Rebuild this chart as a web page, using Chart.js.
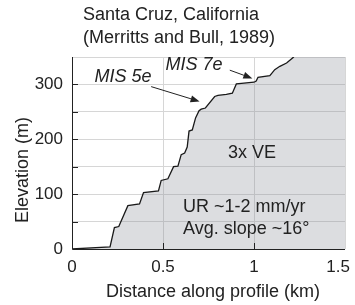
<!DOCTYPE html>
<html>
<head>
<meta charset="utf-8">
<script src="https://cdn.jsdelivr.net/npm/chart.js@4/dist/chart.umd.min.js"></script>
<style>
  html, body { margin: 0; padding: 0; background: #fff; }
  #wrap { width: 355px; height: 305px; }
</style>
</head>
<body>
<div id="wrap"><canvas id="profile"></canvas></div>
<script>
// profile: distance (km) vs elevation (m)
const distKm = [0, 0.209, 0.233, 0.257, 0.307, 0.371, 0.393, 0.475, 0.490, 0.527, 0.558, 0.582,
    0.600, 0.619, 0.633, 0.643, 0.661, 0.679, 0.698, 0.710, 0.733, 0.784, 0.802, 0.848, 0.881,
    0.903, 0.931, 1.000, 1.012, 1.022, 1.087, 1.114, 1.142, 1.179, 1.215, 1.235, 1.5];
const elevM = [0, 4, 39, 41, 79, 82, 103, 106, 125, 128, 150, 151,
    172, 175, 186, 215, 217, 239, 252, 255, 257, 278, 280, 282, 284,
    301, 302, 304, 306, 313, 316, 327, 333, 339, 349, 358, 358];

const xTicks = [0, 0.5, 1, 1.5];
const yTicks = [0, 100, 200, 300];

const titleLines = ['Santa Cruz, California', '(Merritts and Bull, 1989)'];
const xTitle = 'Distance along profile (km)';
const yTitle = 'Elevation (m)';

// notes inside the plot, in data units (x km, y m = text baseline)
const notes = [
    { text: 'MIS 5e', x: 0.123, y: 305, italic: true },
    { text: 'MIS 7e', x: 0.514, y: 327, italic: true },
    { text: '3x VE', x: 0.857, y: 165 },
    { text: 'UR ~1-2 mm/yr', x: 0.61, y: 67 },
    { text: 'Avg. slope ~16°', x: 0.61, y: 28 }
];
const arrows = [
    { from: [0.435, 296], to: [0.701, 269] },
    { from: [0.867, 326], to: [0.991, 311] }
];

const FONT = '"Liberation Sans", Arial, Helvetica, sans-serif';

const pts = distKm.map((d, i) => ({ x: d, y: elevM[i] }));

const extras = {
    id: 'extras',
    afterDatasetsDraw(chart) {
        const { ctx, chartArea: a, scales: { x, y } } = chart;
        ctx.save();
        // frame: left and bottom axes dark, inward ticks
        ctx.strokeStyle = '#222';
        ctx.lineWidth = 1;
        ctx.beginPath();
        ctx.moveTo(a.left + 0.5, a.top);
        ctx.lineTo(a.left + 0.5, a.bottom + 0.5);
        ctx.lineTo(a.right, a.bottom + 0.5);
        for (let v = 50; v < 350; v += 50) {
            const py = Math.round(y.getPixelForValue(v)) + 0.5;
            ctx.moveTo(a.left, py);
            ctx.lineTo(a.left + 6, py);
        }
        [0.5, 1].forEach(v => {
            const px = Math.round(x.getPixelForValue(v)) + 0.5;
            ctx.moveTo(px, a.bottom);
            ctx.lineTo(px, a.bottom - 6);
        });
        ctx.stroke();

        ctx.fillStyle = '#222';
        ctx.textBaseline = 'alphabetic';

        // x tick labels, last one kept inside the canvas
        ctx.font = '17px ' + FONT;
        ctx.textAlign = 'center';
        xTicks.forEach(v => {
            const s = String(v);
            const w = ctx.measureText(s).width;
            const px = Math.min(x.getPixelForValue(v), chart.width - 5 - w / 2);
            ctx.fillText(s, px, a.bottom + 23);
        });

        // notes
        ctx.textAlign = 'left';
        notes.forEach(n => {
            ctx.font = (n.italic ? 'italic ' : '') + '18px ' + FONT;
            ctx.fillText(n.text, x.getPixelForValue(n.x), y.getPixelForValue(n.y));
        });

        // arrows
        arrows.forEach(ar => {
            const x0 = x.getPixelForValue(ar.from[0]), y0 = y.getPixelForValue(ar.from[1]);
            const x1 = x.getPixelForValue(ar.to[0]), y1 = y.getPixelForValue(ar.to[1]);
            const ang = Math.atan2(y1 - y0, x1 - x0);
            const hl = 9, hw = 3.5;
            const bx = x1 - hl * Math.cos(ang), by = y1 - hl * Math.sin(ang);
            ctx.beginPath();
            ctx.moveTo(x0, y0);
            ctx.lineTo(bx, by);
            ctx.stroke();
            ctx.beginPath();
            ctx.moveTo(x1, y1);
            ctx.lineTo(bx + hw * Math.sin(ang), by - hw * Math.cos(ang));
            ctx.lineTo(bx - hw * Math.sin(ang), by + hw * Math.cos(ang));
            ctx.closePath();
            ctx.fill();
        });

        // titles
        ctx.font = '18px ' + FONT;
        ctx.fillText(titleLines[0], 83, 20);
        ctx.fillText(titleLines[1], 83, 43);
        ctx.textAlign = 'center';
        ctx.fillText(xTitle, 213, 297);
        ctx.translate(28, 170);
        ctx.rotate(-Math.PI / 2);
        ctx.fillText(yTitle, 0, 0);
        ctx.restore();
    }
};

new Chart(document.getElementById('profile'), {
    type: 'line',
    data: {
        datasets: [{
            data: pts,
            borderColor: '#1a1a1a',
            borderWidth: 1.3,
            backgroundColor: 'rgba(140,142,152,0.3)',
            fill: 'start',
            pointRadius: 0,
            tension: 0
        }]
    },
    options: {
        responsive: true,
        maintainAspectRatio: false,
        animation: false,
        layout: { padding: { top: 57, right: 10, left: 0, bottom: 0 } },
        plugins: { legend: { display: false }, tooltip: { enabled: false }, title: { display: false } },
        scales: {
            x: {
                type: 'linear',
                min: 0,
                max: 1.5,
                afterBuildTicks: s => { s.ticks = xTicks.map(v => ({ value: v })); },
                afterFit: s => { s.height = 56; s.paddingLeft = 0; s.paddingRight = 0; },
                grid: { color: '#d6d6d6', drawTicks: false },
                border: { display: false },
                ticks: { display: false }
            },
            y: {
                type: 'linear',
                min: 0,
                max: 350,
                ticks: {
                    stepSize: 50,
                    padding: 9,
                    color: '#222',
                    font: { family: FONT, size: 17 },
                    callback: v => (yTicks.includes(v) ? String(v) : '')
                },
                afterFit: s => { s.width = 72; s.paddingTop = 0; s.paddingBottom = 0; },
                grid: { color: '#d6d6d6', drawTicks: false },
                border: { display: false }
            }
        }
    },
    plugins: [extras]
});
</script>
</body>
</html>
